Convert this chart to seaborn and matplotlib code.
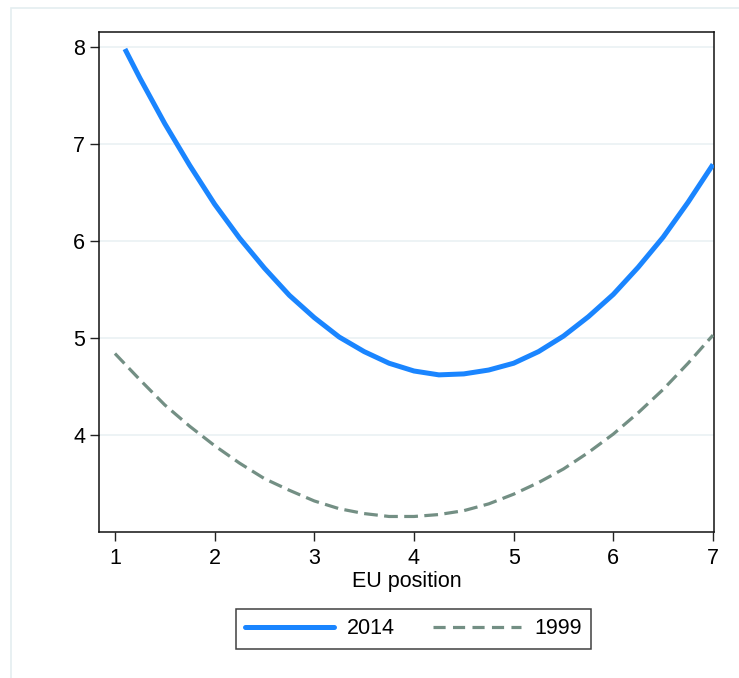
import matplotlib
matplotlib.use("Agg")
import matplotlib.pyplot as plt
import seaborn as sns
import pandas as pd
from matplotlib.patches import Rectangle
from matplotlib.lines import Line2D

# Data
eu_2014 = [1.1, 1.25, 1.5, 1.75, 2.0, 2.25, 2.5, 2.75, 3.0, 3.25, 3.5, 3.75, 4.0,
           4.25, 4.5, 4.75, 5.0, 5.25, 5.5, 5.75, 6.0, 6.25, 6.5, 6.75, 7.0]
val_2014 = [7.98, 7.68, 7.21, 6.78, 6.38, 6.03, 5.72, 5.44, 5.21, 5.01, 4.86, 4.74, 4.66,
            4.62, 4.63, 4.67, 4.74, 4.86, 5.02, 5.22, 5.45, 5.73, 6.04, 6.40, 6.79]
eu_1999 = [1.0, 1.25, 1.5, 1.75, 2.0, 2.25, 2.5, 2.75, 3.0, 3.25, 3.5, 3.75, 4.0,
           4.25, 4.5, 4.75, 5.0, 5.25, 5.5, 5.75, 6.0, 6.25, 6.5, 6.75, 7.0]
val_1999 = [4.84, 4.57, 4.31, 4.09, 3.89, 3.71, 3.55, 3.43, 3.32, 3.24, 3.19, 3.16, 3.16,
            3.18, 3.22, 3.29, 3.39, 3.51, 3.65, 3.82, 4.01, 4.23, 4.47, 4.74, 5.03]
x_ticks = [1, 2, 3, 4, 5, 6, 7]
y_ticks = [4, 5, 6, 7, 8]
labels = ["2014", "1999"]

sns.set_theme(style="white")
plt.rcParams['font.family'] = ['Liberation Sans', 'DejaVu Sans']
plt.rcParams['text.color'] = 'black'

FS = 15.5
W, H = 739, 678
fig = plt.figure(figsize=(W / 100, H / 100), dpi=100)
fig.patch.set_facecolor("white")

# outer light frame (extends past right and bottom edges)
fig.patches.append(Rectangle((10.5 / W, -0.1), 1.0, 1.1 - 8.5 / H, transform=fig.transFigure,
                             fill=False, edgecolor="#e4eef0", linewidth=1.2, zorder=0))

ax = fig.add_axes([99 / W, 1 - 532 / H, (714 - 99) / W, (532 - 32) / H])

c2014 = "#1a85ff"
c1999 = "#738f84"

df14 = pd.DataFrame({"x": eu_2014, "y": val_2014})
df99 = pd.DataFrame({"x": eu_1999, "y": val_1999})
sns.lineplot(data=df14, x="x", y="y", ax=ax, color=c2014, linewidth=3.6, zorder=3)
sns.lineplot(data=df99, x="x", y="y", ax=ax, color=c1999, linewidth=2.3, zorder=3)
ax.lines[1].set_dashes([4.3, 2.0])
for ln in ax.lines:
    ln.set_solid_capstyle("butt")
    ln.set_dash_capstyle("butt")

ax.set_xlim(0.84, 7.01)
ax.set_ylim(3.0, 8.155)
ax.set_xticks(x_ticks)
ax.set_yticks(y_ticks)
ax.set_xticklabels([str(t) for t in x_ticks], fontsize=FS, color="black")
ax.set_yticklabels([str(t) for t in y_ticks], fontsize=FS, color="black")
ax.tick_params(axis="both", direction="out", length=6.5, width=1, color="#222222",
               bottom=True, left=True)
ax.tick_params(axis="x", pad=5)
ax.tick_params(axis="y", pad=3.5)
ax.yaxis.grid(True, color="#eaf1f3", linewidth=1.2)
ax.xaxis.grid(False)
ax.set_axisbelow(True)
for s in ax.spines.values():
    s.set_color("#111111")
    s.set_linewidth(1.1)

ax.set_xlabel("EU position", fontsize=FS, labelpad=1.5, color="black")
ax.set_ylabel("")

handles = [Line2D([0], [0], color=c2014, linewidth=3.6),
           Line2D([0], [0], color=c1999, linewidth=2.3, dashes=[3.8, 2.3])]
leg = fig.legend(handles, labels, loc="center", bbox_to_anchor=(413.5 / W, 1 - 629 / H),
                 ncol=2, fontsize=FS, frameon=True, fancybox=False, handlelength=4.1,
                 columnspacing=1.75, handletextpad=0.62, borderpad=0.42,
                 borderaxespad=0)
leg.get_frame().set_edgecolor("#111111")
leg.get_frame().set_linewidth(1.1)
for t in leg.get_texts():
    t.set_color("black")

fig.savefig("out.png", dpi=100, facecolor="white")
